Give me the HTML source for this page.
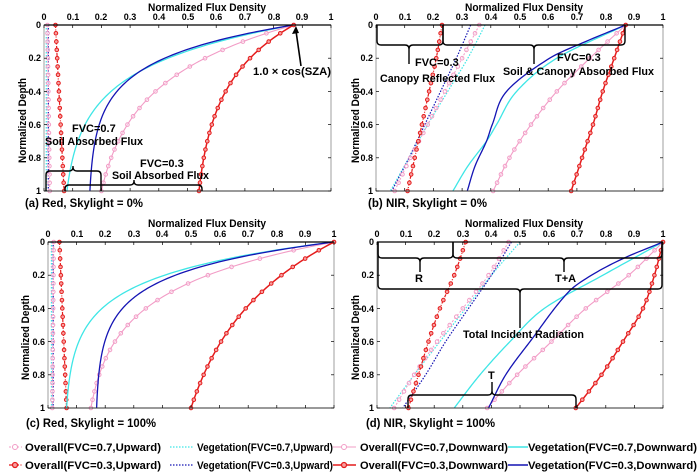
<!DOCTYPE html>
<html><head><meta charset="utf-8"><style>
html,body{margin:0;padding:0;background:#fff;}
svg{display:block;font-family:"Liberation Sans",Arial,sans-serif;font-weight:bold;}
.t{font-size:9px;}
.ttl{font-size:11px;}
.ann{font-size:11px;}
.cap{font-size:12px;}
.lg{font-size:11px;font-weight:bold;}
</style></head><body>
<svg id="s" width="700" height="474" viewBox="0 0 700 474" xmlns="http://www.w3.org/2000/svg">
<g id="curves"></g>
<g id="frames"></g>
<text class="ttl" x="148" y="11" textLength="118" lengthAdjust="spacingAndGlyphs">Normalized Flux Density</text>
<text class="ttl" x="465" y="11" textLength="118" lengthAdjust="spacingAndGlyphs">Normalized Flux Density</text>
<text class="ttl" x="148" y="227" textLength="118" lengthAdjust="spacingAndGlyphs">Normalized Flux Density</text>
<text class="ttl" x="465" y="227" textLength="118" lengthAdjust="spacingAndGlyphs">Normalized Flux Density</text>
<text class="ttl" transform="translate(26,163) rotate(-90)" textLength="85" lengthAdjust="spacingAndGlyphs">Normalized Depth</text>
<text class="ttl" transform="translate(359,163) rotate(-90)" textLength="85" lengthAdjust="spacingAndGlyphs">Normalized Depth</text>
<text class="ttl" transform="translate(29,380) rotate(-90)" textLength="85" lengthAdjust="spacingAndGlyphs">Normalized Depth</text>
<text class="ttl" transform="translate(359,380) rotate(-90)" textLength="85" lengthAdjust="spacingAndGlyphs">Normalized Depth</text>
<g class="t" text-anchor="middle">
<text x="44" y="20">0</text><text x="73" y="20">0.1</text><text x="101" y="20">0.2</text><text x="130" y="20">0.3</text><text x="159" y="20">0.4</text><text x="188" y="20">0.5</text><text x="216" y="20">0.6</text><text x="245" y="20">0.7</text><text x="274" y="20">0.8</text><text x="302" y="20">0.9</text><text x="331" y="20">1</text>
<text x="376" y="20">0</text><text x="405" y="20">0.1</text><text x="433" y="20">0.2</text><text x="462" y="20">0.3</text><text x="491" y="20">0.4</text><text x="520" y="20">0.5</text><text x="548" y="20">0.6</text><text x="577" y="20">0.7</text><text x="606" y="20">0.8</text><text x="634" y="20">0.9</text><text x="663" y="20">1</text>
<text x="48" y="237">0</text><text x="77" y="237">0.1</text><text x="105" y="237">0.2</text><text x="134" y="237">0.3</text><text x="162" y="237">0.4</text><text x="191" y="237">0.5</text><text x="220" y="237">0.6</text><text x="248" y="237">0.7</text><text x="277" y="237">0.8</text><text x="305" y="237">0.9</text><text x="334" y="237">1</text>
<text x="377" y="237">0</text><text x="406" y="237">0.1</text><text x="434" y="237">0.2</text><text x="463" y="237">0.3</text><text x="491" y="237">0.4</text><text x="520" y="237">0.5</text><text x="549" y="237">0.6</text><text x="577" y="237">0.7</text><text x="606" y="237">0.8</text><text x="634" y="237">0.9</text><text x="663" y="237">1</text>
</g>
<g class="t" text-anchor="end">
<text x="41" y="28">0</text><text x="41" y="61">0.2</text><text x="41" y="95">0.4</text><text x="41" y="128">0.6</text><text x="41" y="161">0.8</text><text x="41" y="194">1</text>
<text x="373" y="28">0</text><text x="373" y="61">0.2</text><text x="373" y="95">0.4</text><text x="373" y="128">0.6</text><text x="373" y="161">0.8</text><text x="373" y="194">1</text>
<text x="45" y="245">0</text><text x="45" y="278">0.2</text><text x="45" y="312">0.4</text><text x="45" y="345">0.6</text><text x="45" y="378">0.8</text><text x="45" y="411">1</text>
<text x="374" y="245">0</text><text x="374" y="278">0.2</text><text x="374" y="312">0.4</text><text x="374" y="345">0.6</text><text x="374" y="378">0.8</text><text x="374" y="411">1</text>
</g>
<text class="cap" x="25" y="207" textLength="118" lengthAdjust="spacingAndGlyphs">(a) Red, Skylight = 0%</text>
<text class="cap" x="368" y="207" textLength="119" lengthAdjust="spacingAndGlyphs">(b) NIR, Skylight = 0%</text>
<text class="cap" x="26" y="427" textLength="130" lengthAdjust="spacingAndGlyphs">(c) Red, Skylight = 100%</text>
<text class="cap" x="366" y="427" textLength="129" lengthAdjust="spacingAndGlyphs">(d) NIR, Skylight = 100%</text>
<g id="braces" fill="none" stroke="#000" stroke-width="1.4"></g>
<g class="ann">
<text x="72" y="132">FVC=0.7</text>
<text x="45" y="145" textLength="98" lengthAdjust="spacingAndGlyphs">Soil Absorbed Flux</text>
<text x="140" y="167">FVC=0.3</text>
<text x="112" y="179" textLength="97" lengthAdjust="spacingAndGlyphs">Soil Absorbed Flux</text>
<text x="253" y="75" textLength="78" lengthAdjust="spacingAndGlyphs">1.0 × cos(SZA)</text>
<text x="415" y="66">FVC=0.3</text>
<text x="380" y="82" textLength="115" lengthAdjust="spacingAndGlyphs">Canopy Reflected Flux</text>
<text x="557" y="61">FVC=0.3</text>
<text x="503" y="75" textLength="151" lengthAdjust="spacingAndGlyphs">Soil &amp; Canopy Absorbed Flux</text>
<text x="415" y="282">R</text>
<text x="555" y="282">T+A</text>
<text x="463" y="338" textLength="121" lengthAdjust="spacingAndGlyphs">Total Incident Radiation</text>
<text x="488" y="379">T</text>
</g>
<line x1="301" y1="66" x2="296" y2="31" stroke="#000" stroke-width="1.6"/>
<path d="M296,26 L292,34 L299,33 Z" fill="#000"/>
<g id="legend"></g>
<g class="lg">
<text x="25" y="451" textLength="136" lengthAdjust="spacingAndGlyphs">Overall(FVC=0.7,Upward)</text>
<text x="197" y="451" textLength="136" lengthAdjust="spacingAndGlyphs">Vegetation(FVC=0.7,Upward)</text>
<text x="360" y="451" textLength="148" lengthAdjust="spacingAndGlyphs">Overall(FVC=0.7,Downward)</text>
<text x="528" y="451" textLength="169" lengthAdjust="spacingAndGlyphs">Vegetation(FVC=0.7,Downward)</text>
<text x="25" y="469" textLength="136" lengthAdjust="spacingAndGlyphs">Overall(FVC=0.3,Upward)</text>
<text x="197" y="469" textLength="136" lengthAdjust="spacingAndGlyphs">Vegetation(FVC=0.3,Upward)</text>
<text x="360" y="469" textLength="148" lengthAdjust="spacingAndGlyphs">Overall(FVC=0.3,Downward)</text>
<text x="528" y="469" textLength="169" lengthAdjust="spacingAndGlyphs">Vegetation(FVC=0.3,Downward)</text>
</g>
</svg>
<script>
var NS="http://www.w3.org/2000/svg";
function el(p,t,a){var e=document.createElementNS(NS,t);for(var k in a)e.setAttribute(k,a[k]);p.appendChild(e);return e;}
var RED="#e41c1c",PINK="#f29cc6",CYAN="#3ee6e6",BLUE="#1414b4";
function cr(pts,d){
 var n=pts.length;var i=0;while(i<n-2&&d>pts[i+1][0])i++;
 var p0=pts[Math.max(i-1,0)],p1=pts[i],p2=pts[i+1],p3=pts[Math.min(i+2,n-1)];
 var t=(d-p1[0])/(p2[0]-p1[0]);
 var m1=(p2[1]-p0[1])/(p2[0]-p0[0])*(p2[0]-p1[0]);var m2=(p3[1]-p1[1])/(p3[0]-p1[0])*(p2[0]-p1[0]);
 if(p0===p1)m1=(p2[1]-p1[1]);if(p3===p2)m2=(p2[1]-p1[1]);
 var t2=t*t,t3=t2*t;
 return (2*t3-3*t2+1)*p1[1]+(t3-2*t2+t)*m1+(-2*t3+3*t2)*p2[1]+(t3-t2)*m2;}
function F(v){return typeof v==="function"?v:function(d){return cr(v,d);};}
var E=Math.exp;
function ex(top,b,k){return function(d){return b+(top-b)*(E(-k*d)-d*E(-k));};}
var panels=[
{x0:44,x1:331,y0:25,y1:191,c:{
 o3d:ex(.87,.54,3),o7d:ex(.87,.2,3),v3d:ex(.87,.16,5),v7d:ex(.87,.08,4),
 o3u:function(d){return .04+.03*d},o7u:function(d){return .012+.008*d},
 v7u:function(d){return .008},v3u:function(d){return .015}}},
{x0:376,x1:663,y0:25,y1:191,c:{
 o3d:[[0,.87],[.2,.83],[.4,.79],[.6,.756],[.8,.718],[1,.68]],
 o7d:[[0,.87],[.2,.745],[.4,.63],[.6,.54],[.8,.465],[1,.408]],
 v7d:[[0,.87],[.2,.63],[.4,.49],[.6,.42],[.7,.385],[.85,.32],[1,.268]],
 v3d:[[0,.87],[.1,.73],[.2,.605],[.4,.455],[.6,.405],[.7,.385],[.85,.345],[1,.318]],
 o3u:[[0,.23],[.2,.21],[.4,.185],[.6,.16],[.8,.135],[1,.11]],
 o7u:[[0,.36],[.2,.30],[.4,.24],[.6,.18],[.8,.12],[1,.065]],
 v7u:[[0,.38],[.2,.32],[.4,.25],[.6,.18],[.8,.115],[1,.05]],
 v3u:[[0,.33],[.2,.28],[.4,.225],[.6,.17],[.8,.115],[1,.055]]}},
{x0:48,x1:334,y0:242,y1:408,c:{
 o3d:ex(1,.5,2.1),o7d:ex(1,.15,3.6),v3d:ex(1,.17,5.5),v7d:ex(1,.065,5),
 o3u:function(d){return .04+.025*d},o7u:function(d){return .02-.005*d},
 v7u:function(d){return .012},v3u:function(d){return .018}}},
{x0:377,x1:663,y0:242,y1:408,c:{
 o3d:[[0,1],[.2,.97],[.4,.93],[.6,.86],[.8,.785],[1,.695]],
 o7d:[[0,1],[.2,.88],[.4,.73],[.6,.61],[.8,.49],[1,.385]],
 v7d:[[0,1],[.2,.79],[.4,.585],[.6,.465],[.8,.36],[1,.27]],
 v3d:[[0,1],[.1,.86],[.2,.75],[.3,.67],[.6,.535],[.8,.45],[1,.39]],
 o3u:[[0,.31],[.2,.27],[.4,.22],[.6,.18],[.8,.145],[1,.11]],
 o7u:[[0,.46],[.2,.39],[.4,.30],[.6,.21],[.8,.13],[1,.06]],
 v7u:[[0,.50],[.2,.40],[.4,.31],[.6,.22],[.8,.13],[1,.045]],
 v3u:[[0,.47],[.2,.40],[.4,.32],[.6,.24],[.8,.17],[1,.09]]}}];
var styles={
 v7u:{c:CYAN,w:1.2,da:"1.5 1.5"},v3u:{c:BLUE,w:1.2,da:"1.5 1.5"},
 o7u:{c:PINK,w:1,da:"2 2",m:1},o3u:{c:RED,w:1.2,da:"3 1.5 1 1.5",m:1},
 v7d:{c:CYAN,w:1.3},v3d:{c:BLUE,w:1.3},o7d:{c:PINK,w:1.1,m:1},o3d:{c:RED,w:1.5,m:1}};
var order=["v7u","v3u","o7u","o3u","v7d","o7d","v3d","o3d"];
var G=document.getElementById("curves"),FR=document.getElementById("frames");
panels.forEach(function(p){
 var X=function(x){return p.x0+x*(p.x1-p.x0)},Y=function(d){return p.y0+d*(p.y1-p.y0)};
 var cp=el(G,"g",{});
 order.forEach(function(k){var f=F(p.c[k]),s=styles[k];var pts=[];
  for(var i=0;i<=100;i++){var d=i/100;pts.push(X(f(d)).toFixed(2)+","+Y(d).toFixed(2));}
  var a={points:pts.join(" "),fill:"none",stroke:s.c,"stroke-width":s.w};if(s.da)a["stroke-dasharray"]=s.da;
  el(cp,"polyline",a);
  if(s.m){for(var j=0;j<=20;j++){var d=j/20;el(cp,"circle",{cx:X(f(d)),cy:Y(d),r:1.8,fill:k=="o3d"||k=="o3u"?"#f7a0a0":"#fff","fill-opacity":k[1]=="7"?0.4:1,stroke:s.c,"stroke-width":1});}}
 });
 el(FR,"rect",{x:p.x0,y:p.y0,width:p.x1-p.x0,height:p.y1-p.y0,fill:"none",stroke:"#888","stroke-width":0.8});
 el(FR,"line",{x1:p.x0,y1:p.y0,x2:p.x1,y2:p.y0,stroke:"#000","stroke-width":1.2});
 el(FR,"line",{x1:p.x0,y1:p.y1,x2:p.x1,y2:p.y1,stroke:"#333","stroke-width":1});
 for(var i=0;i<=10;i++){var x=X(i/10);el(FR,"line",{x1:x,y1:p.y0,x2:x,y2:p.y0+3,stroke:"#000","stroke-width":0.7});el(FR,"line",{x1:x,y1:p.y1,x2:x,y2:p.y1-3,stroke:"#000","stroke-width":0.7});}
 for(var i=0;i<=5;i++){var y=Y(i/5);el(FR,"line",{x1:p.x0,y1:y,x2:p.x0+3,y2:y,stroke:"#000","stroke-width":0.7});el(FR,"line",{x1:p.x1,y1:y,x2:p.x1-3,y2:y,stroke:"#000","stroke-width":0.7});}
});
var B=document.getElementById("braces");
function brace(x1,x2,y,xm,endY,tipY){var h=4;var de=endY>y?1:-1,dt=tipY>y?1:-1;
 var d="M"+x1+","+endY+" L"+x1+","+(y+de*h)+" Q"+x1+","+y+" "+(x1+h)+","+y+" L"+(xm-h)+","+y+" Q"+xm+","+y+" "+xm+","+(y+dt*h)+" L"+xm+","+tipY+
 " M"+xm+","+(y+dt*h)+" Q"+xm+","+y+" "+(xm+h)+","+y+" L"+(x2-h)+","+y+" Q"+x2+","+y+" "+x2+","+(y+de*h)+" L"+x2+","+endY;
 el(B,"path",{d:d});}
brace(46,101,171,73,191,166);
brace(65,202,185,134,191,180);
brace(377,443,45,409,25,64);
brace(443,625,45,534,25,64);
brace(378,453,258,420,242,272);
brace(453,662,258,564,242,272);
brace(378,662,289,520,242,328);
brace(408,576,395,492,408,382);
var L=document.getElementById("legend");
function lgl(x1,x2,y,c,w,da){var a={x1:x1,y1:y,x2:x2,y2:y,stroke:c,"stroke-width":w};if(da)a["stroke-dasharray"]=da;el(L,"line",a);}
lgl(9,22,447,PINK,1,"2 2");el(L,"circle",{cx:15,cy:447,r:2.5,fill:"#fff",stroke:PINK});
lgl(9,22,465,RED,1.2,"3 1.5 1 1.5");el(L,"circle",{cx:15,cy:465,r:2.5,fill:"#f7a0a0",stroke:RED,"stroke-width":1.3});
lgl(170,194,447,CYAN,1.3,"1.5 1.5");lgl(170,194,465,BLUE,1.3,"1.5 1.5");
lgl(333,356,447,PINK,1.1);el(L,"circle",{cx:344,cy:447,r:2.5,fill:"#fff",stroke:PINK});
lgl(333,356,465,RED,1.6);el(L,"circle",{cx:344,cy:465,r:2.5,fill:"#f7a0a0",stroke:RED,"stroke-width":1.3});
lgl(508,528,447,CYAN,1.6);lgl(508,528,465,BLUE,1.6);
</script>
</body></html>
